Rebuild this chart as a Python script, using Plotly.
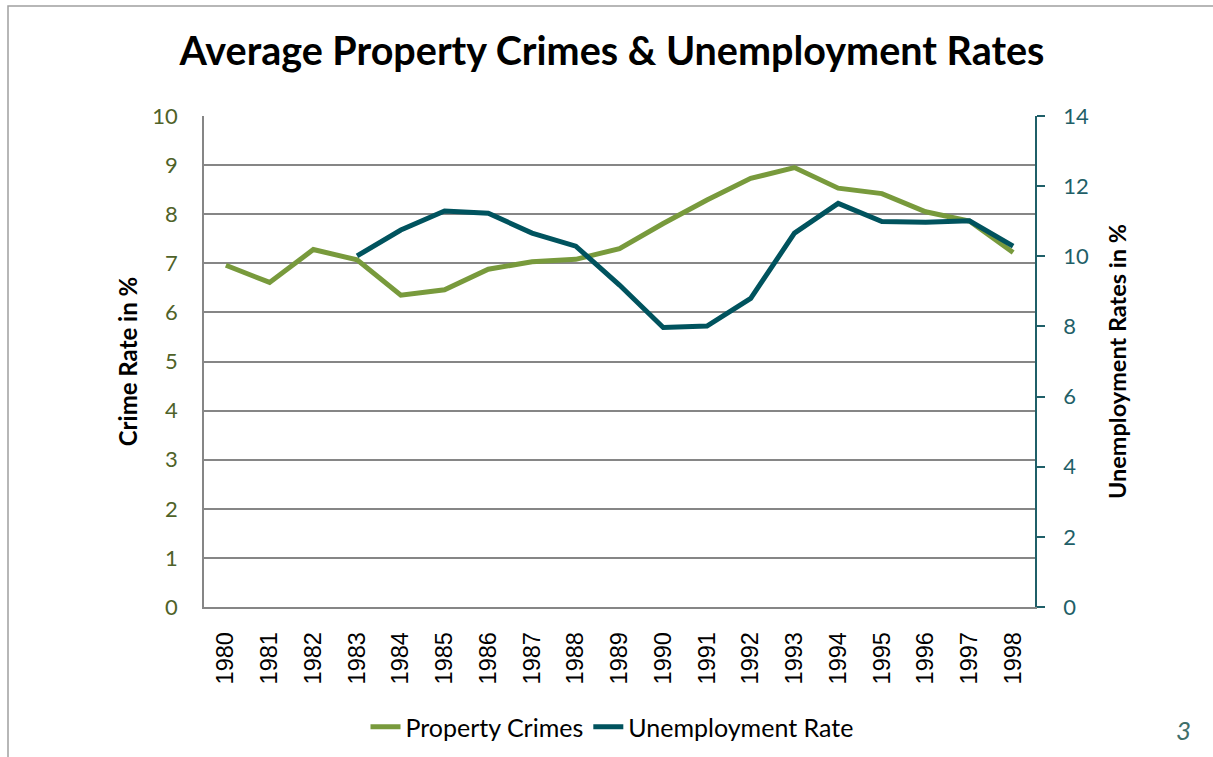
import plotly.graph_objects as go

years = [str(y) for y in range(1980, 1999)]
property_crimes = [6.96, 6.61, 7.28, 7.07, 6.35, 6.46, 6.88, 7.03, 7.08, 7.30,
                   7.81, 8.29, 8.73, 8.95, 8.53, 8.42, 8.05, 7.86, 7.22]
unemployment = [None, None, None, 10.01, 10.75, 11.29, 11.23, 10.66, 10.29, 9.18,
                7.97, 8.01, 8.80, 10.66, 11.51, 10.99, 10.97, 11.01, 10.29]

GREEN = "#789A3C"
TEAL = "#00535E"
W, H = 1213, 757
L, R, T, B = 204, 178, 116, 150

fig = go.Figure()
fig.add_trace(go.Scatter(x=years, y=property_crimes, name="Property Crimes",
                         mode="lines", line=dict(color=GREEN, width=5), yaxis="y"))
fig.add_trace(go.Scatter(x=years, y=unemployment, name="Unemployment Rate",
                         mode="lines", line=dict(color=TEAL, width=5), yaxis="y2"))

pw = W - L - R
ph = H - T - B
def px(x):
    return (x - L) / pw
def py(y):
    return (H - B - y) / ph

fig.update_layout(
    width=W, height=H,
    margin=dict(l=L, r=R, t=T, b=B),
    paper_bgcolor="white", plot_bgcolor="white",
    font=dict(family="Lato, Open Sans, sans-serif", color="black"),
    title=dict(text="<b>Average Property Crimes &amp; Unemployment Rates</b>",
               x=612 / W, xanchor="center", xref="container",
               y=1 - 51 / H, yanchor="middle",
               font=dict(size=39.5, color="black", family="Lato, Open Sans, sans-serif")),
    xaxis=dict(type="category", range=[-0.5, 18.5], showgrid=False, showline=True,
               linecolor="#868686", linewidth=1.5, ticks="", tickangle=-90,
               ticklabelstandoff=14,
               tickfont=dict(family="Liberation Sans, Arial, sans-serif", size=23.5, color="black")),
    yaxis=dict(range=[0, 10], dtick=1, showgrid=True, gridcolor="#868686", gridwidth=1.5,
               showline=True, linecolor="#868686", linewidth=1.5, ticks="",
               ticklabelstandoff=20,
               zeroline=False, tickfont=dict(size=22, color="#4F6228"),
               title=dict(text="<b>Crime Rate in %</b>", font=dict(size=24, color="black"),
                          standoff=8)),
    yaxis2=dict(range=[0, 14], dtick=2, overlaying="y", side="right", showgrid=False,
                showline=True, linecolor="#1F5F68", linewidth=1.5, ticks="outside",
                ticklen=8, tickcolor="#1F5F68", tickwidth=1.5, zeroline=False,
                ticklabelstandoff=14,
                tickfont=dict(size=22, color="#1F5F68"),
                title=dict(text="<b>Unemployment Rates in %</b>",
                           font=dict(size=23.5, color="black"), standoff=22)),
    legend=dict(orientation="h", x=612 / W, xref="container", xanchor="center",
                y=1 - 727 / H, yref="container", yanchor="middle",
                font=dict(size=25, color="black"), itemwidth=30, tracegroupgap=0),
    showlegend=True,
)

fig.add_shape(type="rect", xref="paper", yref="paper",
              x0=px(8), x1=px(1230), y0=py(6), y1=py(790),
              line=dict(color="#A0A0A0", width=1.5), layer="below")
fig.add_annotation(text="<i>3</i>", xref="paper", yref="paper",
                   x=px(1183), y=py(730), xanchor="center", yanchor="middle",
                   showarrow=False, font=dict(size=26, color="#3F6F6A"))

fig.write_html("out.html")
